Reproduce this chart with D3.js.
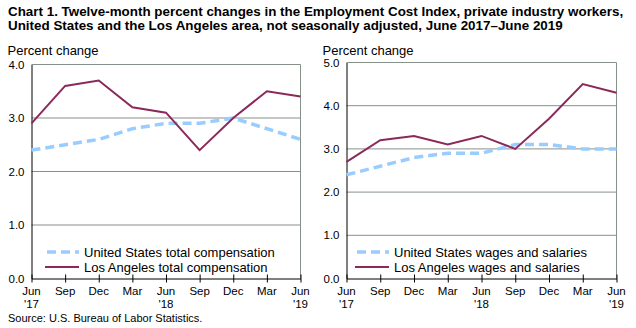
<!DOCTYPE html>
<html>
<head>
<meta charset="utf-8">
<script src="https://cdn.jsdelivr.net/npm/d3@7"></script>
<style>
  body { margin: 0; background: #fff; }
  svg { display: block; font-family: "Liberation Sans", Arial, sans-serif; }
</style>
</head>
<body>
<svg id="chart" width="636" height="328"></svg>
<script>
// Chart data
const months = ["Jun", "Sep", "Dec", "Mar", "Jun", "Sep", "Dec", "Mar", "Jun"];
const years = ["'17", "", "", "", "'18", "", "", "", "'19"];

const usTotalComp = [2.4, 2.5, 2.6, 2.8, 2.9, 2.9, 3.0, 2.8, 2.6];
const laTotalComp = [2.9, 3.6, 3.7, 3.2, 3.1, 2.4, 3.0, 3.5, 3.4];
const usWages = [2.4, 2.6, 2.8, 2.9, 2.9, 3.1, 3.1, 3.0, 3.0];
const laWages = [2.7, 3.2, 3.3, 3.1, 3.3, 3.0, 3.7, 4.5, 4.3];

const leftTicks = [0, 1, 2, 3, 4];
const rightTicks = [0, 1, 2, 3, 4, 5];

const usColor = "#99ccff", laColor = "#8b2a5a";

let svg = d3.select("#chart");

// Title
svg.append("text")
  .attr("x", 8).attr("y", 16)
  .attr("font-size", "13.4px")
  .attr("font-weight", "bold")
  .text("Chart 1. Twelve-month percent changes in the Employment Cost Index, private industry workers,");
svg.append("text")
  .attr("x", 8).attr("y", 30)
  .attr("font-size", "13.4px")
  .attr("font-weight", "bold")
  .text("United States and the Los Angeles area, not seasonally adjusted, June 2017\u2013June 2019");

svg.append("text")
  .attr("x", 8).attr("y", 322)
  .attr("font-size", "11px")
  .text("Source: U.S. Bureau of Labor Statistics.");

function drawPanel(opts) {
  let x = d3.scalePoint().domain(d3.range(months.length)).range([opts.left, opts.right]);
  let y = d3.scaleLinear().domain([0, opts.max]).range([opts.bottom, opts.top]);

  let g = svg.append("g");

  g.append("text")
    .attr("x", opts.left - 24).attr("y", 55)
    .attr("font-size", "13px")
    .text("Percent change");

  // grid lines
  g.selectAll(".grid")
    .data(opts.ticks.filter(d => d > 0))
    .enter().append("line")
    .attr("x1", opts.left).attr("x2", opts.right)
    .attr("y1", d => y(d)).attr("y2", d => y(d))
    .attr("stroke", "#87918a")
    .attr("stroke-width", 1);

  // right border
  g.append("line")
    .attr("x1", opts.right).attr("x2", opts.right)
    .attr("y1", y(opts.max)).attr("y2", opts.bottom)
    .attr("stroke", "#87918a");

  // y axis
  let yAxis = g.append("g")
    .attr("transform", "translate(" + opts.left + ",0)")
    .call(d3.axisLeft(y).tickValues(opts.ticks).tickFormat(d3.format(".1f")).tickSize(0).tickPadding(7));
  yAxis.select(".domain").attr("stroke", "#000");
  yAxis.selectAll("text").attr("font-size", "11.5px").attr("font-family", "Liberation Sans, Arial, sans-serif").attr("fill", "#000");

  // x axis
  let xAxis = g.append("g")
    .attr("transform", "translate(0," + opts.bottom + ")")
    .call(d3.axisBottom(x).tickSize(4).tickSizeOuter(0).tickFormat(""));
  xAxis.selectAll(".tick line").attr("y1", -4).attr("stroke", "#000");
  xAxis.select(".domain").attr("stroke", "#000");

  g.selectAll(".xlab")
    .data(months)
    .enter().append("text")
    .attr("x", (d, i) => x(i))
    .attr("y", opts.bottom + 16)
    .attr("text-anchor", "middle")
    .attr("font-size", "11.5px")
    .text(d => d);
  g.selectAll(".ylab")
    .data(years)
    .enter().append("text")
    .attr("x", (d, i) => x(i))
    .attr("y", opts.bottom + 29)
    .attr("text-anchor", "middle")
    .attr("font-size", "11.5px")
    .text(d => d);

  let line = d3.line().x((d, i) => x(i)).y(d => y(d));

  g.append("path")
    .datum(opts.us)
    .attr("d", line)
    .attr("fill", "none")
    .attr("stroke", usColor)
    .attr("stroke-width", 3.5)
    .attr("stroke-dasharray", "9,5");

  g.append("path")
    .datum(opts.la)
    .attr("d", line)
    .attr("fill", "none")
    .attr("stroke", laColor)
    .attr("stroke-width", 2);

  // legend
  let lx = opts.legendX;
  g.append("line")
    .attr("x1", lx).attr("x2", lx + 32)
    .attr("y1", 252).attr("y2", 252)
    .attr("stroke", usColor).attr("stroke-width", 3.5).attr("stroke-dasharray", "9,5");
  g.append("line")
    .attr("x1", lx - 2).attr("x2", lx + 32)
    .attr("y1", 267).attr("y2", 267)
    .attr("stroke", laColor).attr("stroke-width", 2);
  g.append("text").attr("x", lx + 37).attr("y", 257).attr("font-size", "13px").text(opts.usLabel);
  g.append("text").attr("x", lx + 37).attr("y", 272).attr("font-size", "13px").text(opts.laLabel);
}

drawPanel({
  left: 31.5, right: 300.5, top: 64.5, bottom: 278.5, max: 4, ticks: leftTicks,
  us: usTotalComp, la: laTotalComp, legendX: 47,
  usLabel: "United States total compensation", laLabel: "Los Angeles total compensation"
});

drawPanel({
  left: 346.5, right: 616.5, top: 62.5, bottom: 278.5, max: 5, ticks: rightTicks,
  us: usWages, la: laWages, legendX: 357,
  usLabel: "United States wages and salaries", laLabel: "Los Angeles wages and salaries"
});
</script>
</body>
</html>
